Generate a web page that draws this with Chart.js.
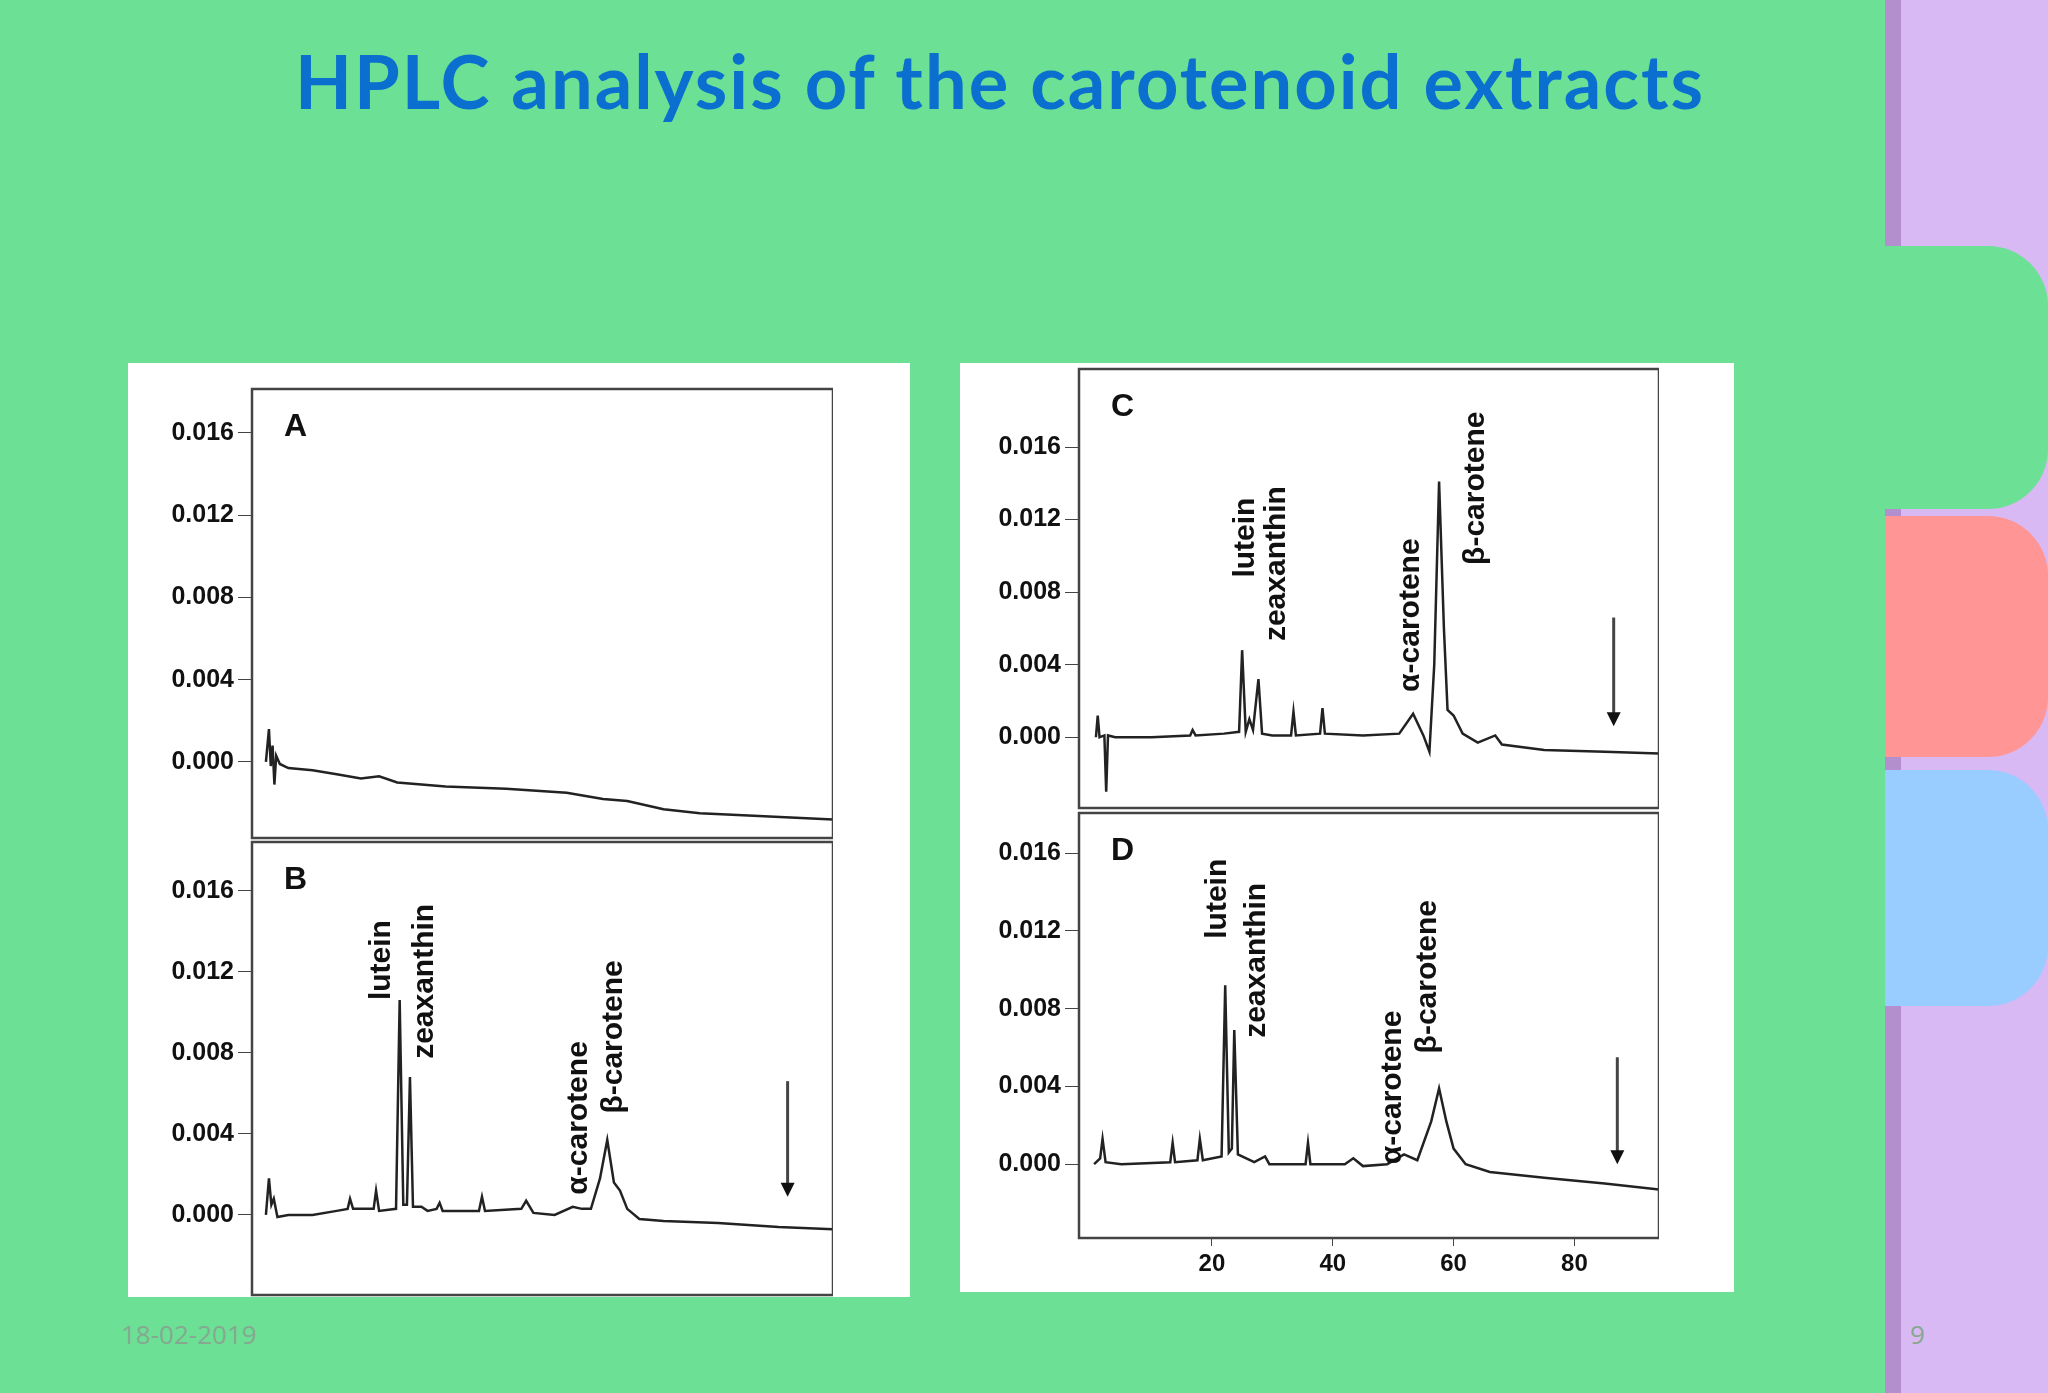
<!DOCTYPE html>
<html><head><meta charset="utf-8">
<script src="https://cdn.jsdelivr.net/npm/chart.js@4.4.0/dist/chart.umd.min.js"></script>
<style>
html,body{margin:0;padding:0;}
body{width:2048px;height:1393px;background:#6ce095;position:relative;overflow:hidden;font-family:"Liberation Sans",Arial,sans-serif;}
#title{position:absolute;left:0;width:2000px;top:36px;text-align:center;font-family:Lato,sans-serif;font-weight:bold;font-size:74px;color:#0b6fcf;letter-spacing:2px;}
.strip{position:absolute;left:1885px;top:0;width:163px;height:1393px;background:#d8b9f4;}
.shade{position:absolute;left:1885px;top:0;width:16px;height:1393px;background:#b48fcf;}
.tab{position:absolute;left:1885px;width:163px;border-radius:0 60px 60px 0;}
.panel{position:absolute;background:#fff;}
.c{position:absolute;}
.foot{position:absolute;top:1316px;font-family:"Open Sans",sans-serif;font-size:26px;color:#86a890;}
</style></head><body>
<div class="strip"></div><div class="shade"></div>
<div class="tab" style="top:246px;height:263px;background:#6ce095;"></div>
<div class="tab" style="top:516px;height:241px;background:#ff9595;"></div>
<div class="tab" style="top:770px;height:236px;background:#99ccff;"></div>
<div id="title">HPLC analysis of the carotenoid extracts</div>
<div class="panel" style="left:128px;top:363px;width:782px;height:934px;"></div>
<div class="panel" style="left:960px;top:363px;width:774px;height:929px;"></div>
<div class="c" style="left:128px;top:370px;width:705px;height:487px;"><canvas id="cA"></canvas></div>
<div class="c" style="left:128px;top:823px;width:705px;height:491px;"><canvas id="cB"></canvas></div>
<div class="c" style="left:960px;top:350px;width:699px;height:477px;"><canvas id="cC"></canvas></div>
<div class="c" style="left:960px;top:794px;width:699px;height:486px;"><canvas id="cD"></canvas></div>
<div class="foot" style="left:121px;">18-02-2019</div>
<div class="foot" style="left:1910px;">9</div>
<script>
const yTicks=[0,0.004,0.008,0.012,0.016];
const xTicks=[20,40,60,80];
const traceA=[[0.3,0],[0.8,0.0016],[1.1,-0.0002],[1.4,0.0008],[1.7,-0.0011],[2.0,0.0003],[2.6,-0.0001],[4,-0.0003],[8,-0.0004],[12,-0.0006],[16,-0.0008],[19,-0.0007],[22,-0.001],[30,-0.0012],[40,-0.0013],[50,-0.0015],[56,-0.0018],[60,-0.0019],[66,-0.0023],[72,-0.0025],[80,-0.0026],[94,-0.0028]];
const traceB=[[0.3,0],[0.8,0.0018],[1.2,0.0005],[1.6,0.0008],[2.2,-0.0001],[4,0],[8,0],[12,0.0002],[13.8,0.0003],[14.2,0.0008],[14.7,0.0003],[18.1,0.0003],[18.5,0.0012],[19,0.0002],[21.8,0.0003],[22.4,0.0106],[23,0.0005],[23.6,0.0005],[24.1,0.0068],[24.6,0.0004],[26,0.0004],[27,0.0002],[28.5,0.0003],[29,0.0006],[29.5,0.0002],[35.5,0.0002],[36,0.0009],[36.5,0.0002],[42.5,0.0003],[43.3,0.0007],[44.5,0.0001],[48,0],[51,0.0004],[52.5,0.0003],[54,0.0003],[55.5,0.0018],[56.7,0.0037],[57.8,0.0016],[58.8,0.0012],[60,0.0003],[62,-0.0002],[66,-0.0003],[75,-0.0004],[85,-0.0006],[94,-0.0007]];
const traceC=[[0.8,0],[1.1,0.0012],[1.4,0],[2.2,0.0001],[2.5,-0.003],[2.8,0.0001],[4,0],[10,0],[16.4,0.0001],[16.8,0.0004],[17.3,0.0001],[22,0.0002],[24.5,0.0003],[25,0.0048],[25.6,0.0003],[26.2,0.001],[26.8,0.0004],[27.7,0.0032],[28.3,0.0002],[30,0.0001],[33.1,0.0001],[33.5,0.0014],[33.9,0.0001],[37.9,0.0002],[38.3,0.0016],[38.7,0.0002],[45,0.0001],[51,0.0002],[53.3,0.0013],[55,0.0001],[56,-0.0008],[56.8,0.004],[57.6,0.0141],[58.4,0.006],[59,0.0015],[60,0.0012],[61.5,0.0002],[64,-0.0003],[66.9,0.0001],[68,-0.0004],[75,-0.0007],[85,-0.0008],[94,-0.0009]];
const traceD=[[0.5,0],[1.5,0.0003],[1.9,0.0013],[2.4,0.0001],[5,0],[13.1,0.0001],[13.5,0.0011],[13.9,0.0001],[17.6,0.0002],[18,0.0013],[18.5,0.0002],[21.6,0.0004],[22.2,0.0092],[22.8,0.0006],[23.3,0.0008],[23.7,0.0069],[24.3,0.0005],[27,0.0001],[28.8,0.0004],[29.5,0],[35.5,0],[35.9,0.0011],[36.3,0],[42,0],[43.4,0.0003],[45,-0.0001],[49,0],[51.8,0.0005],[54,0.0002],[56.3,0.0022],[57.6,0.0039],[58.8,0.0022],[60,0.0008],[62,0],[66,-0.0004],[75,-0.0007],[85,-0.001],[94,-0.0013]];
const labelsB=[["lutein",19.4,0.0106],["zeaxanthin",26.5,0.0077],["α-carotene",52,0.001],["β-carotene",57.8,0.005]];
const labelsC=[["lutein",25.6,0.0088],["zeaxanthin",30.8,0.0053],["α-carotene",52.9,0.0025],["β-carotene",63.7,0.0095]];
const labelsD=[["lutein",21,0.0116],["zeaxanthin",27.5,0.0065],["α-carotene",49.9,0.0],["β-carotene",55.7,0.0057]];
const arrows={B:[86.5,0.0066,0.0009],C:[86.5,0.0066,0.0006],D:[87.1,0.0055,0.0]};

const deco={id:'deco',afterDraw(ch,a,o){
  const c=ch.ctx,ar=ch.chartArea,xs=ch.scales.x,ys=ch.scales.y;
  c.save();
  c.strokeStyle='#444';c.lineWidth=2.5;c.strokeRect(ar.left,ar.top,ar.right-ar.left,ar.bottom-ar.top);
  c.fillStyle='#111';c.font='bold 32px "Liberation Sans", Arial';c.textBaseline='top';
  c.fillText(o.letter,ar.left+32,ar.top+22);
  c.font='bold 30px "Liberation Sans", Arial';c.textBaseline='middle';c.textAlign='left';
  (o.labels||[]).forEach(l=>{c.save();c.translate(xs.getPixelForValue(l[1]),ys.getPixelForValue(l[2]));c.rotate(-Math.PI/2);c.fillText(l[0],0,0);c.restore();});
  if(o.arrow){const x=xs.getPixelForValue(o.arrow[0]),y1=ys.getPixelForValue(o.arrow[1]),y2=ys.getPixelForValue(o.arrow[2]);
    c.lineWidth=3;c.beginPath();c.moveTo(x,y1);c.lineTo(x,y2-6);c.stroke();
    c.beginPath();c.moveTo(x-7,y2-14);c.lineTo(x+7,y2-14);c.lineTo(x,y2);c.closePath();c.fill();}
  c.restore();}};

function make(id,data,ymin,ymax,opt){
  const showX=!!opt.showX;
  new Chart(document.getElementById(id),{type:'line',
    data:{datasets:[{data:data.map(p=>({x:p[0],y:p[1]})),borderColor:'#222',borderWidth:2.5,pointRadius:0,tension:0}]},
    options:{responsive:true,maintainAspectRatio:false,animation:false,
      layout:{padding:{top:0,right:0,bottom:0,left:0}},
      plugins:{legend:{display:false},tooltip:{enabled:false},deco:opt},
      scales:{
        x:{type:'linear',min:-2,max:94,display:true,
          afterBuildTicks:s=>{s.ticks=showX?xTicks.map(v=>({value:v})):[];},
          afterFit:s=>{s.height=showX?42:0;},
          grid:{drawOnChartArea:false,drawTicks:showX,tickLength:8,color:'#444'},border:{display:false},
          ticks:{display:showX,color:'#111',font:{family:'"Liberation Sans", Arial',weight:'bold',size:24},padding:4}},
        y:{min:ymin,max:ymax,
          afterBuildTicks:s=>{s.ticks=yTicks.map(v=>({value:v}));},
          afterFit:s=>{s.width=opt.yw;},
          grid:{drawOnChartArea:false,drawTicks:true,tickLength:14,color:'#444'},border:{display:false},
          ticks:{color:'#111',padding:4,font:{family:'"Liberation Sans", Arial',weight:'bold',size:25},callback:v=>v.toFixed(3)}}}},
    plugins:[deco]});
}
make('cA',traceA,-0.0037,0.01814,{letter:'A',yw:124});
make('cB',traceB,-0.00395,0.0184,{letter:'B',yw:124,labels:labelsB,arrow:arrows.B});
make('cC',traceC,-0.0039,0.0203,{letter:'C',yw:119,labels:labelsC,arrow:arrows.C});
make('cD',traceD,-0.0038,0.01807,{letter:'D',yw:119,labels:labelsD,arrow:arrows.D,showX:true});
</script></body></html>
